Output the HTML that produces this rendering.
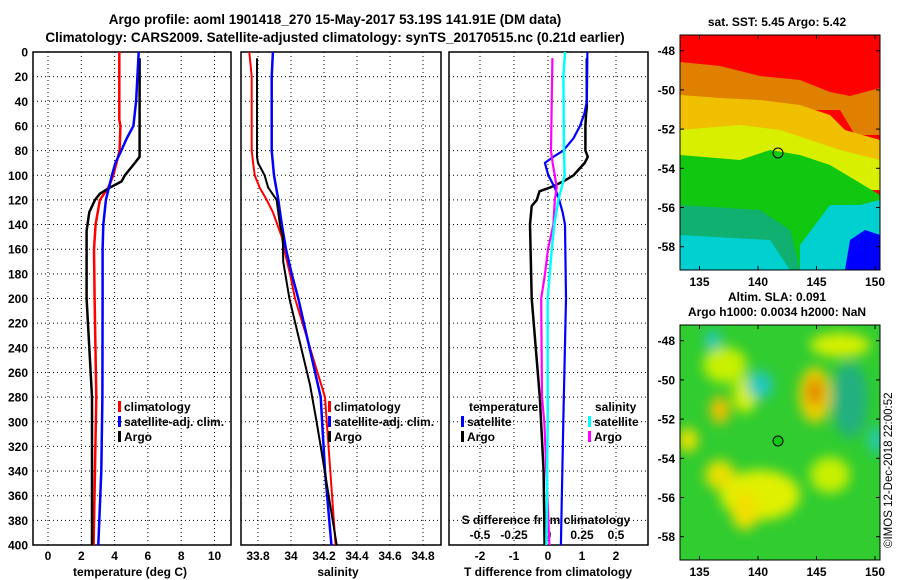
<!DOCTYPE html>
<html><head><meta charset="utf-8"><style>
body{margin:0;background:#fff}
svg{display:block;font-family:"Liberation Sans",sans-serif;font-weight:bold}
</style></head><body>
<svg id="fig" width="900" height="580" viewBox="0 0 900 580" xmlns="http://www.w3.org/2000/svg">
<defs>
<filter id="bl" x="-50%" y="-50%" width="200%" height="200%"><feGaussianBlur stdDeviation="6"/></filter>
<clipPath id="c1"><rect x="680" y="35" width="200" height="235"/></clipPath>
<clipPath id="c2"><rect x="680" y="325" width="200" height="235"/></clipPath>
</defs>
<text x="335" y="24" font-size="13.5" text-anchor="middle">Argo profile: aoml 1901418_270 15-May-2017 53.19S 141.91E (DM data)</text>
<text x="335" y="42" font-size="13.5" text-anchor="middle">Climatology: CARS2009. Satellite-adjusted climatology: synTS_20170515.nc (0.21d earlier)</text>

<!-- SST map -->
<g clip-path="url(#c1)">
<rect x="680" y="35" width="200" height="235" fill="#ff0000"/>
<polygon points="680,62 720,66 760,76 800,80 830,92 850,96 880,88 880,135 855,135 840,110 810,110 790,118 680,118" fill="#e08000"/>
<polygon points="680,95 720,98 760,100 800,105 830,115 845,130 880,140 880,175 680,175" fill="#f0c000"/>
<polygon points="680,130 740,125 780,130 810,140 840,150 880,160 880,190 680,190" fill="#d8f000"/>
<polygon points="680,155 740,160 770,150 800,155 830,165 880,195 880,270 680,270" fill="#10c810"/>
<polygon points="680,205 760,210 790,230 800,270 680,270" fill="#10b070"/>
<polygon points="680,235 770,240 790,270 680,270" fill="#00d0d0"/>
<polygon points="800,245 830,205 860,205 880,200 880,270 800,270" fill="#00d0d0"/>
<polygon points="850,240 865,230 880,235 880,270 845,270" fill="#0000ff"/>
</g>
<rect x="680" y="35" width="200" height="235" fill="none" stroke="#000"/>
<circle cx="778" cy="153" r="5" fill="none" stroke="#000"/>
<text x="777" y="26" font-size="12" text-anchor="middle">sat. SST: 5.45 Argo: 5.42</text>

<!-- SLA map -->
<g clip-path="url(#c2)">
<rect x="680" y="325" width="200" height="235" fill="#30cc30"/>
<g filter="url(#bl)">
<ellipse cx="725" cy="365" rx="22" ry="18" fill="#c8f000"/>
<ellipse cx="745" cy="395" rx="12" ry="18" fill="#d8f000"/>
<ellipse cx="840" cy="345" rx="30" ry="12" fill="#d8f000"/>
<ellipse cx="815" cy="395" rx="16" ry="28" fill="#f0d000"/>
<ellipse cx="815" cy="392" rx="8" ry="14" fill="#e08000"/>
<ellipse cx="720" cy="410" rx="10" ry="14" fill="#f0c000"/>
<ellipse cx="760" cy="495" rx="40" ry="25" fill="#e0f000"/>
<ellipse cx="830" cy="475" rx="20" ry="18" fill="#c8f000"/>
<ellipse cx="720" cy="475" rx="15" ry="15" fill="#e8e000"/>
<ellipse cx="745" cy="510" rx="14" ry="20" fill="#f0e000"/>
<ellipse cx="760" cy="385" rx="13" ry="14" fill="#20c8c0"/>
<ellipse cx="850" cy="400" rx="18" ry="38" fill="#20b080"/>
<ellipse cx="713" cy="340" rx="8" ry="10" fill="#20c8c0"/>
<ellipse cx="688" cy="440" rx="10" ry="12" fill="#f0e000"/>
<ellipse cx="876" cy="440" rx="7" ry="14" fill="#20c8c0"/>
</g>
</g>
<rect x="680" y="325" width="200" height="235" fill="none" stroke="#000"/>
<circle cx="778" cy="441" r="5" fill="#10c810" stroke="#000"/>
<text x="777" y="301" font-size="12" text-anchor="middle">Altim. SLA: 0.091</text>
<text x="777" y="316" font-size="12" text-anchor="middle">Argo h1000: 0.0034 h2000: NaN</text>
<text transform="translate(892,548) rotate(-90)" font-size="11.5" font-weight="normal">©IMOS 12-Dec-2018 22:00:52</text>
<g id="plots"></g>
</svg>
<script>
// ---- data ----
const tempDepth = [0,55,60,80,100,110,120,140,160,200,280,400];
const tempClim  = [4.28,4.28,4.35,4.3,3.92,3.62,3.12,2.86,2.76,2.8,2.9,2.74];
const satDepth  = [0,20,40,60,70,80,90,100,120,140,160,200,280,340,400];
const tempSat   = [5.45,5.37,5.29,5.13,4.73,4.4,4.05,3.84,3.48,3.32,3.28,3.28,3.27,3.2,3.02];
const argoDepth = [5,85,90,100,105,110,115,120,130,145,200,280,400];
const tempArgo  = [5.5,5.5,5.22,4.62,4.42,3.72,3.12,2.82,2.48,2.32,2.32,2.64,2.64];

const salDepth  = [0,20,80,90,100,110,120,130,140,150,160,180,200,280,400];
const salClim   = [33.747,33.762,33.762,33.77,33.78,33.81,33.853,33.89,33.917,33.944,33.958,33.994,34.024,34.206,34.27];
const salSatDepth = [0,20,80,100,120,140,160,180,200,280,340,400];
const salSat    = [33.89,33.883,33.883,33.897,33.923,33.944,33.97,34.004,34.044,34.18,34.206,34.245];
const salArgoDepth = [5,85,90,100,110,120,140,150,170,200,270,300,320,400];
const salArgo   = [33.794,33.794,33.80,33.84,33.862,33.913,33.933,33.95,33.953,33.99,34.115,34.155,34.18,34.277];

const dTSatDepth = [0,40,50,60,70,80,85,90,100,110,120,130,140,200,300,400];
const dTSat      = [1.16,1.14,1.07,0.94,0.75,0.45,0.16,-0.09,0.01,0.2,0.33,0.43,0.5,0.53,0.45,0.38];
const dTArgoDepth= [5,45,50,60,80,85,90,100,105,110,113,120,125,140,200,280,340,400];
const dTArgo     = [1.14,1.14,1.12,1.1,1.1,1.17,1.08,0.75,0.45,0.06,-0.25,-0.33,-0.48,-0.53,-0.48,-0.24,-0.13,-0.1];
const dSArgoDepth= [5,80,90,100,110,120,140,160,180,200,280,300,400];
const dSArgo     = [0.032,0.022,0.034,0.05,0.064,0.05,0.04,0,-0.022,-0.05,-0.044,-0.027,0.01];
const dSSatDepth = [0,20,80,100,110,120,140,160,200,300,400];
const dSSat      = [0.125,0.113,0.118,0.122,0.10,0.076,0.046,0.027,-0.002,-0.002,-0.012];

const depthTicks = [0,20,40,60,80,100,120,140,160,180,200,220,240,260,280,300,320,340,360,380,400];
const tempTicks = [0,2,4,6,8,10];
const salTicks = [33.8,34,34.2,34.4,34.6,34.8];
const salTickLabels = ["33.8","34","34.2","34.4","34.6","34.8"];
const dTTicks = [-2,-1,0,1,2];
const dSTicks = [-0.5,-0.25,0,0.25,0.5];
const lonTicks = [135,140,145,150];
const latTicks = [-48,-50,-52,-54,-56,-58];

// ---- axes ----
const yD = d => 52 + d*1.2325;
const x1 = t => 48 + 16.65*t;
const x2 = s => 291 + 165*(s-34);
const x3 = t => 548 + 34*t;
const x3s = s => 548 + 136*s;
const lonX = l => 699.5 + (l-135)*11.7;
const latY1 = l => 50.7 + (-48-l)*19.6;
const latY2 = l => 340.7 + (-48-l)*19.6;

const NS="http://www.w3.org/2000/svg";
const plots=document.getElementById('plots');
function mk(tag,attrs,parent){const e=document.createElementNS(NS,tag);for(const k in attrs)e.setAttribute(k,attrs[k]);(parent||plots).appendChild(e);return e;}

const panels=[{l:33,r:231,name:'temperature-panel'},{l:241,r:441,name:'salinity-panel'},{l:449,r:648,name:'difference-panel'}];
panels.forEach(p=>{
  depthTicks.forEach(d=>{ if(d>0&&d<400){const g=mk('line',{x1:p.l,x2:p.r,y1:yD(d),y2:yD(d),stroke:'#000','stroke-dasharray':'1,3','stroke-width':1});
    
    }});
});
function vgrid(vals,fx){vals.forEach(v=>{const g=mk('line',{x1:fx(v),x2:fx(v),y1:52,y2:545,stroke:'#000','stroke-dasharray':'1,3'});
  
  });}
vgrid(tempTicks,x1);vgrid(salTicks,x2);vgrid(dTTicks,x3);
panels.forEach(p=>{const r=mk('rect',{x:p.l,y:52,width:p.r-p.l,height:493,fill:'none',stroke:'#000','stroke-width':1.5});
  
  });
depthTicks.forEach(d=>{const t=mk('text',{x:28,y:yD(d)+4.5,'font-size':12,'text-anchor':'end'});t.textContent=d;
  
  });
function xlabels(vals,labels,fx,y){vals.forEach((v,i)=>{const t=mk('text',{x:fx(v),y:y,'font-size':12,'text-anchor':'middle'});t.textContent=labels[i];
  
  });}
xlabels(tempTicks,tempTicks.map(String),x1,560);
xlabels(salTicks,salTickLabels,x2,560);
xlabels(dTTicks,dTTicks.map(String),x3,560);
xlabels(dSTicks,["-0.5","-0.25","0","0.25","0.5"],x3s,539);
function label(x,y,txt,name,anchor){const t=mk('text',{x:x,y:y,'font-size':12,'text-anchor':anchor||'middle'});t.textContent=txt;
  
  return t;}
label(130,576,'temperature (deg C)','temperature-axis-title');
label(338,576,'salinity','salinity-axis-title');
label(548,576,'T difference from climatology','t-difference-axis-title');
label(546,524,'S difference from climatology','s-difference-axis-title');

function line(depths,vals,fx,color,w,name){
  const pts=depths.map((d,i)=>fx(vals[i]).toFixed(1)+','+yD(d).toFixed(1)).join(' ');
  const p=mk('polyline',{points:pts,fill:'none',stroke:color,'stroke-width':w,'stroke-linejoin':'round'});
  
  
}
line(tempDepth,tempClim,x1,'#ff0000',2.5,'temp-climatology-line');
line(argoDepth,tempArgo,x1,'#000000',2.5,'temp-argo-line');
line(satDepth,tempSat,x1,'#0000ff',2.5,'temp-satellite-line');
line(salDepth,salClim,x2,'#ff0000',2,'sal-climatology-line');
line(salSatDepth,salSat,x2,'#0000ff',2.5,'sal-satellite-line');
line(salArgoDepth,salArgo,x2,'#000000',2,'sal-argo-line');
line(dTArgoDepth,dTArgo,x3,'#000000',2.5,'dT-argo-line');
line(dTSatDepth,dTSat,x3,'#0000ff',2.2,'dT-satellite-line');
line(dSArgoDepth,dSArgo,x3s,'#ff00ff',2.2,'dS-argo-line');
line(dSSatDepth,dSSat,x3s,'#00ffff',2.5,'dS-satellite-line');

function leg(x,y,color,txt,name){
  const m=mk('rect',{x:x,y:y-10,width:3,height:11,fill:color});
  
  
  label(x+6,y,txt,name,'start');
}
leg(118,411,'#ff0000','climatology','legend-temp-climatology');
leg(118,426,'#0000ff','satellite-adj. clim.','legend-temp-satellite');
leg(118,441,'#000000','Argo','legend-temp-argo');
leg(328,411,'#ff0000','climatology','legend-sal-climatology');
leg(328,426,'#0000ff','satellite-adj. clim.','legend-sal-satellite');
leg(328,441,'#000000','Argo','legend-sal-argo');
label(469,411,'temperature','legend-temperature-heading','start');
leg(461,426,'#0000ff','satellite','legend-dT-satellite');
leg(461,441,'#000000','Argo','legend-dT-argo');
label(595,411,'salinity','legend-salinity-heading','start');
leg(588,426,'#00ffff','satellite','legend-dS-satellite');
leg(588,441,'#ff00ff','Argo','legend-dS-argo');

[[latY1,270,35],[latY2,560,325]].forEach(([ly,bot,top])=>{
  latTicks.forEach(l=>{label(675,ly(l)+4.5,String(l),'latitude-tick-label','end');
    const a=mk('line',{x1:680,x2:684,y1:ly(l),y2:ly(l),stroke:'#000'});
    const b=mk('line',{x1:876,x2:880,y1:ly(l),y2:ly(l),stroke:'#000'});});
  lonTicks.forEach(l=>{label(lonX(l),bot+16,String(l),'longitude-tick-label');
    const a=mk('line',{x1:lonX(l),x2:lonX(l),y1:bot,y2:bot-4,stroke:'#000'});
    const b=mk('line',{x1:lonX(l),x2:lonX(l),y1:top,y2:top+4,stroke:'#000'});});
});
</script>
</body></html>
